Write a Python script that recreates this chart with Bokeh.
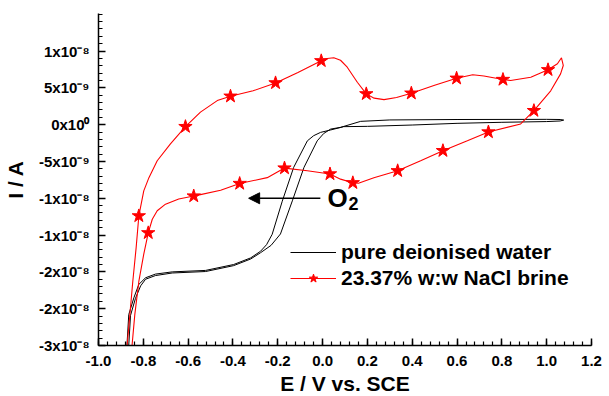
from bokeh.plotting import figure
from bokeh.models import (FixedTicker, CustomJSTickFormatter, NumeralTickFormatter,
                          Legend, LegendItem, Arrow, NormalHead, Label, Title)
from bokeh.embed import file_html
from bokeh.resources import INLINE

NA = 1e-9  # currents below are listed in nA

# Pure deionised water: one closed CV loop (E / V vs. SCE, I / nA)
water_E = [-0.875, -0.865, -0.842, -0.820, -0.790, -0.746, -0.671, -0.522, -0.397,
           -0.321, -0.277, -0.250, -0.225, -0.180, -0.129, -0.068, -0.040, -0.009,
           0.036, 0.094, 0.200, 0.400, 0.600, 0.800, 1.000, 1.060, 1.076,
           1.060, 1.000, 0.600, 0.300, 0.170, 0.080, 0.036, 0.005, -0.024, -0.083,
           -0.135, -0.188, -0.230, -0.277, -0.321, -0.397, -0.522, -0.671, -0.746,
           -0.790, -0.812, -0.835, -0.857, -0.867]
water_I = [-31.0, -25.8, -23.5, -21.7, -20.8, -20.3, -20.0, -19.8, -19.0,
           -18.1, -17.2, -16.3, -14.9, -10.4, -5.8, -2.2, -1.5, -1.05,
           -0.72, -0.27, -0.23, -0.05, 0.18, 0.32, 0.42, 0.50, 0.62,
           0.70, 0.72, 0.70, 0.64, 0.45, -0.37, -0.60, -1.2, -2.2, -5.8,
           -10.35, -14.85, -16.4, -17.4, -18.25, -19.15, -19.95, -20.15, -20.5,
           -21.0, -21.9, -23.6, -25.9, -31.0]

# 23.37% w:w NaCl brine: CV loop
brine_E = [-0.874, -0.872, -0.860, -0.847, -0.832, -0.820, -0.798, -0.775, -0.738,
           -0.679, -0.612, -0.545, -0.470, -0.411, -0.310, -0.210, -0.110, -0.006,
           0.020, 0.050, 0.080, 0.110, 0.155, 0.195, 0.230, 0.274, 0.330, 0.396,
           0.500, 0.598, 0.670, 0.720, 0.805, 0.839, 0.929, 1.006, 1.048, 1.066,
           1.074, 1.062, 1.018, 0.943, 0.884, 0.740, 0.646, 0.537, 0.4375, 0.335,
           0.229, 0.160, 0.135, 0.080, 0.033, -0.068, -0.170, -0.247, -0.370,
           -0.455, -0.545, -0.575, -0.642, -0.701, -0.738, -0.760, -0.778, -0.798,
           -0.820, -0.838, -0.850, -0.853]
brine_I = [-31.0, -29.9, -25.8, -21.3, -16.7, -12.4, -9.0, -7.2, -4.9,
           -2.6, -0.27, 1.7, 3.27, 3.86, 4.6, 5.67, 7.1, 8.67,
           8.98, 9.08, 8.75, 7.8, 5.76, 4.18, 3.6, 3.4, 3.7, 4.27,
           5.35, 6.3, 6.78, 6.6, 6.13, 6.0, 6.45, 7.45, 8.27, 9.08,
           8.04, 6.9, 4.6, 1.9, 0.1, -1.0, -2.2, -3.54, -4.9, -6.27,
           -7.2, -7.95, -7.9, -7.4, -6.7, -6.27, -5.9, -7.2, -8.0,
           -8.9, -9.5, -9.7, -10.1, -10.8, -11.7, -12.85, -14.7, -17.6,
           -21.3, -25.8, -29.9, -31.0]

# Star markers along the brine curve
star_E = [-0.820, -0.612, -0.411, -0.210, -0.006, 0.195, 0.396, 0.598, 0.805, 1.006,
          0.943, 0.740, 0.537, 0.335, 0.135, 0.033, -0.170, -0.370, -0.575, -0.778]
star_I = [-12.4, -0.27, 3.86, 5.67, 8.67, 4.18, 4.27, 6.3, 6.13, 7.45,
          1.9, -1.0, -3.54, -6.27, -7.9, -6.7, -5.9, -8.0, -9.7, -14.7]

# Axis ticks
x_ticks = [-1.0, -0.8, -0.6, -0.4, -0.2, 0.0, 0.2, 0.4, 0.6, 0.8, 1.0, 1.2]
y_ticks_nA = [-30, -25, -20, -15, -10, -5, 0, 5, 10]
y_tick_labels = ["-3x10⁻⁸", "-2x10⁻⁸", "-2x10⁻⁸", "-1x10⁻⁸", "-1x10⁻⁸",
                 "-5x10⁻⁹", "0x10⁰", "5x10⁻⁹", "1x10⁻⁸"]

FONT = "Liberation Sans"
X_MIN, X_MAX = -1.0, 1.2
Y_MIN, Y_MAX = -30 * NA, 15.1 * NA

p = figure(width=609, height=396, x_range=(X_MIN, X_MAX), y_range=(Y_MIN, Y_MAX),
           output_backend="svg", toolbar_location=None,
           min_border_left=98, min_border_right=18, min_border_top=13, min_border_bottom=0)
p.outline_line_color = None
p.xgrid.visible = False
p.ygrid.visible = False
p.background_fill_color = "white"

black = p.line(water_E, [v * NA for v in water_I], line_color="black", line_width=1.0)
red_line = p.line(brine_E, [v * NA for v in brine_I], line_color="#ff0000", line_width=1.1)
red_stars = p.scatter(star_E, [v * NA for v in star_I], marker="star", size=14,
                      fill_color="#ff0000", line_color="#ff0000")

# x axis
minor_x = [round(-1.0 + 0.04 * i, 2) for i in range(56)]
p.xaxis.ticker = FixedTicker(ticks=x_ticks, minor_ticks=minor_x)
p.xaxis.formatter = NumeralTickFormatter(format="0.0")

# y axis
minor_y = [i * NA for i in range(-30, 16)]
p.yaxis.ticker = FixedTicker(ticks=[v * NA for v in y_ticks_nA], minor_ticks=minor_y)
label_map = ", ".join('"%d": "%s"' % (v * 10, s) for v, s in zip(y_ticks_nA, y_tick_labels))
p.yaxis.formatter = CustomJSTickFormatter(code="""
const m = {%s};
const k = String(Math.round(tick * 1e10));
return (k in m) ? m[k] : "";
""" % label_map)
p.yaxis.axis_label = "I / A"

for ax in (p.xaxis[0], p.yaxis[0]):
    ax.axis_line_width = 1.5
    ax.axis_line_color = "black"
    ax.major_tick_in = 7
    ax.major_tick_out = 0
    ax.minor_tick_in = 4
    ax.minor_tick_out = 0
    ax.major_tick_line_width = 1.5
    ax.minor_tick_line_width = 1.2
    ax.major_label_text_font = FONT
    ax.major_label_text_font_style = "bold"
    ax.major_label_text_font_size = "15px"
    ax.major_label_text_color = "black"
    ax.axis_label_text_font = FONT
    ax.axis_label_text_font_style = "bold"
    ax.axis_label_text_font_size = "21px"
    ax.axis_label_text_color = "black"

p.xaxis.major_label_standoff = 10
p.yaxis.major_label_standoff = 9
p.yaxis.axis_label_standoff = 9

# x axis title, placed in the panel below the axis
p.add_layout(Title(text="E / V vs. SCE", align="center", text_font=FONT,
                   text_font_style="bold", text_font_size="21px", text_color="black",
                   standoff=3, offset=0), "below")

# O2 annotation with arrow
p.add_layout(Arrow(end=NormalHead(size=11, fill_color="black", line_color="black"),
                   x_start=-0.01, y_start=-10 * NA, x_end=-0.33, y_end=-10 * NA,
                   line_width=1.6, line_color="black"))
p.add_layout(Label(x=0.022, y=-10 * NA, text="O", text_font=FONT, text_font_style="bold",
                   text_font_size="26px", text_baseline="middle", text_color="black"))
p.add_layout(Label(x=0.022, y=-10 * NA, x_offset=21, y_offset=-5, text="2", text_font=FONT,
                   text_font_style="bold", text_font_size="18px", text_baseline="middle",
                   text_color="black"))

legend = Legend(items=[LegendItem(label="pure deionised water", renderers=[black]),
                       LegendItem(label="23.37% w:w NaCl brine", renderers=[red_line, red_stars])],
                location=(192, 55))
legend.border_line_color = None
legend.background_fill_alpha = 0
legend.label_text_font = FONT
legend.label_text_font_style = "bold"
legend.label_text_font_size = "21px"
legend.label_text_color = "black"
legend.label_height = 22
legend.glyph_height = 22
legend.glyph_width = 46
legend.label_standoff = 5
legend.spacing = 2
legend.padding = 2
legend.margin = 0
p.add_layout(legend)

open("out.html", "w").write(file_html(p, INLINE))
